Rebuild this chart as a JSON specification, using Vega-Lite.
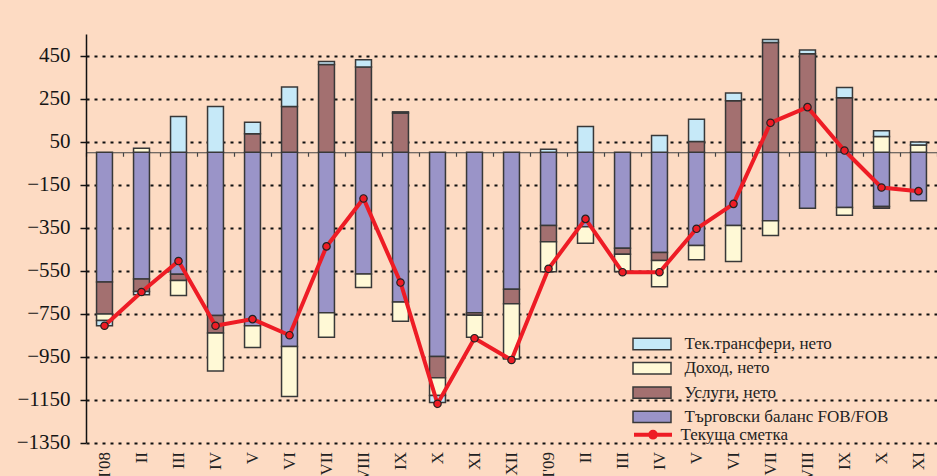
{
  "$schema": "https://vega.github.io/schema/vega-lite/v6.json",
  "width": 851,
  "height": 408.5,
  "autosize": {"type": "none"},
  "padding": {"left": 86, "top": 34, "right": 0, "bottom": 33.5},
  "background": "#FDDBC3",
  "config": {
    "view": {"stroke": null},
    "font": "Liberation Serif"
  },
  "datasets": {
    "bars": [
      {"m": "I'08", "c": "Търговски баланс FOB/FOB", "v": -604},
      {"m": "I'08", "c": "Услуги, нето", "v": -148},
      {"m": "I'08", "c": "Доход, нето", "v": -31},
      {"m": "I'08", "c": "Тек.трансфери, нето", "v": -24},
      {"m": "II'08", "c": "Търговски баланс FOB/FOB", "v": -589},
      {"m": "II'08", "c": "Услуги, нето", "v": -59},
      {"m": "II'08", "c": "Доход, нето", "v": 19},
      {"m": "II'08", "c": "Тек.трансфери, нето", "v": -15},
      {"m": "III'08", "c": "Търговски баланс FOB/FOB", "v": -567},
      {"m": "III'08", "c": "Услуги, нето", "v": -30},
      {"m": "III'08", "c": "Доход, нето", "v": -69},
      {"m": "III'08", "c": "Тек.трансфери, нето", "v": 166},
      {"m": "IV'08", "c": "Търговски баланс FOB/FOB", "v": -759},
      {"m": "IV'08", "c": "Услуги, нето", "v": -82},
      {"m": "IV'08", "c": "Доход, нето", "v": -176},
      {"m": "IV'08", "c": "Тек.трансфери, нето", "v": 213},
      {"m": "V'08", "c": "Търговски баланс FOB/FOB", "v": -807},
      {"m": "V'08", "c": "Услуги, нето", "v": 86},
      {"m": "V'08", "c": "Доход, нето", "v": -101},
      {"m": "V'08", "c": "Тек.трансфери, нето", "v": 54},
      {"m": "VI'08", "c": "Търговски баланс FOB/FOB", "v": -904},
      {"m": "VI'08", "c": "Услуги, нето", "v": 213},
      {"m": "VI'08", "c": "Доход, нето", "v": -232},
      {"m": "VI'08", "c": "Тек.трансфери, нето", "v": 90},
      {"m": "VII'08", "c": "Търговски баланс FOB/FOB", "v": -746},
      {"m": "VII'08", "c": "Услуги, нето", "v": 408},
      {"m": "VII'08", "c": "Доход, нето", "v": -114},
      {"m": "VII'08", "c": "Тек.трансфери, нето", "v": 14},
      {"m": "VIII'08", "c": "Търговски баланс FOB/FOB", "v": -566},
      {"m": "VIII'08", "c": "Услуги, нето", "v": 396},
      {"m": "VIII'08", "c": "Доход, нето", "v": -63},
      {"m": "VIII'08", "c": "Тек.трансфери, нето", "v": 34},
      {"m": "IX'08", "c": "Търговски баланс FOB/FOB", "v": -697},
      {"m": "IX'08", "c": "Услуги, нето", "v": 182},
      {"m": "IX'08", "c": "Доход, нето", "v": -89},
      {"m": "IX'08", "c": "Тек.трансфери, нето", "v": 6},
      {"m": "X'08", "c": "Търговски баланс FOB/FOB", "v": -950},
      {"m": "X'08", "c": "Услуги, нето", "v": -99},
      {"m": "X'08", "c": "Доход, нето", "v": -82},
      {"m": "X'08", "c": "Тек.трансфери, нето", "v": -33},
      {"m": "XI'08", "c": "Търговски баланс FOB/FOB", "v": -746},
      {"m": "XI'08", "c": "Услуги, нето", "v": -12},
      {"m": "XI'08", "c": "Доход, нето", "v": -102},
      {"m": "XII'08", "c": "Търговски баланс FOB/FOB", "v": -637},
      {"m": "XII'08", "c": "Услуги, нето", "v": -68},
      {"m": "XII'08", "c": "Доход, нето", "v": -257},
      {"m": "I'09", "c": "Търговски баланс FOB/FOB", "v": -341},
      {"m": "I'09", "c": "Услуги, нето", "v": -75},
      {"m": "I'09", "c": "Доход, нето", "v": -140},
      {"m": "I'09", "c": "Тек.трансфери, нето", "v": 14},
      {"m": "II'09", "c": "Търговски баланс FOB/FOB", "v": -346},
      {"m": "II'09", "c": "Доход, нето", "v": -77},
      {"m": "II'09", "c": "Тек.трансфери, нето", "v": 120},
      {"m": "III'09", "c": "Търговски баланс FOB/FOB", "v": -446},
      {"m": "III'09", "c": "Услуги, нето", "v": -28},
      {"m": "III'09", "c": "Доход, нето", "v": -81},
      {"m": "IV'09", "c": "Търговски баланс FOB/FOB", "v": -466},
      {"m": "IV'09", "c": "Услуги, нето", "v": -38},
      {"m": "IV'09", "c": "Доход, нето", "v": -121},
      {"m": "IV'09", "c": "Тек.трансфери, нето", "v": 78},
      {"m": "V'09", "c": "Търговски баланс FOB/FOB", "v": -434},
      {"m": "V'09", "c": "Услуги, нето", "v": 50},
      {"m": "V'09", "c": "Доход, нето", "v": -66},
      {"m": "V'09", "c": "Тек.трансфери, нето", "v": 104},
      {"m": "VI'09", "c": "Търговски баланс FOB/FOB", "v": -341},
      {"m": "VI'09", "c": "Услуги, нето", "v": 240},
      {"m": "VI'09", "c": "Доход, нето", "v": -167},
      {"m": "VI'09", "c": "Тек.трансфери, нето", "v": 36},
      {"m": "VII'09", "c": "Търговски баланс FOB/FOB", "v": -319},
      {"m": "VII'09", "c": "Услуги, нето", "v": 510},
      {"m": "VII'09", "c": "Доход, нето", "v": -68},
      {"m": "VII'09", "c": "Тек.трансфери, нето", "v": 14},
      {"m": "VIII'09", "c": "Търговски баланс FOB/FOB", "v": -260},
      {"m": "VIII'09", "c": "Услуги, нето", "v": 458},
      {"m": "VIII'09", "c": "Тек.трансфери, нето", "v": 18},
      {"m": "IX'09", "c": "Търговски баланс FOB/FOB", "v": -257},
      {"m": "IX'09", "c": "Услуги, нето", "v": 253},
      {"m": "IX'09", "c": "Доход, нето", "v": -36},
      {"m": "IX'09", "c": "Тек.трансфери, нето", "v": 48},
      {"m": "X'09", "c": "Търговски баланс FOB/FOB", "v": -252},
      {"m": "X'09", "c": "Услуги, нето", "v": -8},
      {"m": "X'09", "c": "Доход, нето", "v": 73},
      {"m": "X'09", "c": "Тек.трансфери, нето", "v": 27},
      {"m": "XI'09", "c": "Търговски баланс FOB/FOB", "v": -225},
      {"m": "XI'09", "c": "Доход, нето", "v": 34},
      {"m": "XI'09", "c": "Тек.трансфери, нето", "v": 14}
    ],
    "ca": [
      {"m": "I'08", "v": -807},
      {"m": "II'08", "v": -650},
      {"m": "III'08", "v": -506},
      {"m": "IV'08", "v": -807},
      {"m": "V'08", "v": -776},
      {"m": "VI'08", "v": -851},
      {"m": "VII'08", "v": -438},
      {"m": "VIII'08", "v": -215},
      {"m": "IX'08", "v": -606},
      {"m": "X'08", "v": -1170},
      {"m": "XI'08", "v": -865},
      {"m": "XII'08", "v": -966},
      {"m": "I'09", "v": -542},
      {"m": "II'09", "v": -310},
      {"m": "III'09", "v": -558},
      {"m": "IV'09", "v": -558},
      {"m": "V'09", "v": -356},
      {"m": "VI'09", "v": -240},
      {"m": "VII'09", "v": 137},
      {"m": "VIII'09", "v": 210},
      {"m": "IX'09", "v": 8},
      {"m": "X'09", "v": -164},
      {"m": "XI'09", "v": -181}
    ]
  },
  "encoding": {
    "x": {
      "field": "m", "type": "nominal",
      "scale": {
        "domain": ["I'08","II'08","III'08","IV'08","V'08","VI'08","VII'08","VIII'08","IX'08","X'08","XI'08","XII'08","I'09","II'09","III'09","IV'09","V'09","VI'09","VII'09","VIII'09","IX'09","X'09","XI'09"],
        "paddingInner": 0, "paddingOuter": 0
      },
      "axis": {
        "orient": "bottom", "title": null, "domain": false, "ticks": false,
        "labelAngle": -90, "labelPadding": 9, "labelFont": "Liberation Serif",
        "labelFontSize": 17, "labelColor": "#222",
        "labelExpr": "test(/^I'/, datum.label) ? datum.label : split(datum.label, \"'\")[0]"
      }
    },
    "y": {
      "field": "v", "type": "quantitative",
      "scale": {"domain": [-1350, 550], "nice": false, "zero": false},
      "axis": {
        "title": null, "format": "d",
        "values": [-1350, -1150, -950, -750, -550, -350, -150, 50, 250, 450],
        "grid": true, "gridColor": "#111", "gridDash": [3, 5], "gridWidth": 2,
        "domainColor": "#111", "domainWidth": 1.5,
        "tickColor": "#111", "tickSize": 6, "tickWidth": 1.5,
        "labelPadding": 10, "labelFont": "Liberation Serif", "labelFontSize": 21,
        "labelColor": "#151515"
      }
    }
  },
  "resolve": {"axis": {"x": "independent"}},
  "layer": [
    {
      "data": {"name": "bars"},
      "transform": [
        {"calculate": "indexof(['Търговски баланс FOB/FOB','Услуги, нето','Доход, нето','Тек.трансфери, нето'], datum.c)", "as": "k"}
      ],
      "mark": {"type": "bar", "width": {"band": 0.43}, "stroke": "#383838", "strokeWidth": 1.5},
      "encoding": {
        "fill": {
          "field": "c", "type": "nominal",
          "scale": {
            "domain": ["Тек.трансфери, нето", "Доход, нето", "Услуги, нето", "Търговски баланс FOB/FOB"],
            "range": ["#C6E9F8", "#FFF9D6", "#A37070", "#9A94C8"]
          },
          "legend": {
            "title": null, "orient": "none", "legendX": 555.5, "legendY": 299.5,
            "symbolType": "M-2,-0.6H2V0.6H-2Z", "symbolSize": 361,
            "symbolStrokeColor": "#383838", "symbolStrokeWidth": 1.5,
            "symbolOpacity": 1, "rowPadding": 4.3, "labelOffset": 22, "labelLimit": 400,
            "labelFont": "Liberation Serif", "labelFontSize": 17, "labelColor": "#222",
            "padding": 0
          }
        },
        "order": {"field": "k", "type": "quantitative"}
      }
    },
    {
      "data": {"name": "ca"},
      "mark": {"type": "line", "strokeWidth": 4},
      "encoding": {
        "x": {
          "field": "m", "type": "nominal",
          "axis": {
            "orient": "bottom", "offset": -290.25, "title": null, "labels": false,
            "grid": false, "tickBand": "extent", "tickSize": 4, "tickColor": "#444",
            "tickWidth": 1.2, "domainColor": "#444", "domainWidth": 1.2
          }
        },
        "stroke": {
          "datum": "Текуща сметка",
          "scale": {"domain": ["Текуща сметка"], "range": ["#EE1C25"]},
          "legend": {
            "title": null, "orient": "none", "legendX": 555.5, "legendY": 389.2,
            "symbolType": "M-2,0H2M-0.3,0A0.3,0.3,0,1,1,0.3,0A0.3,0.3,0,1,1,-0.3,0",
            "symbolSize": 361, "symbolStrokeWidth": 4, "labelOffset": 16, "labelLimit": 400,
            "labelFont": "Liberation Serif", "labelFontSize": 17, "labelColor": "#222",
            "padding": 0
          }
        }
      }
    },
    {
      "data": {"name": "ca"},
      "mark": {"type": "point", "filled": true, "fill": "#EE1C25", "stroke": "#222", "strokeWidth": 1.2, "size": 55, "opacity": 1},
      "encoding": {
        "x": {"field": "m", "type": "nominal", "axis": null}
      }
    }
  ]
}
